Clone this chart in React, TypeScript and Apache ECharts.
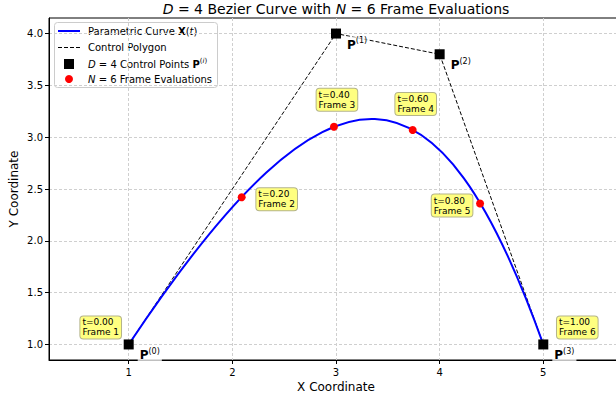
import React, { useEffect, useRef } from 'react';
import * as echarts from 'echarts';

// Control points of the D = 4 (cubic) Bezier curve
const controlX = [1, 3, 4, 5];
const controlY = [1, 4, 3.8, 1];
const controlSup = ['(0)', '(1)', '(2)', '(3)'];

// N = 6 frame evaluations
const frameT = [0.0, 0.2, 0.4, 0.6, 0.8, 1.0];
const frameX = [1.0, 2.09, 2.98, 3.74, 4.39, 5.0];
const frameY = [1.0, 2.42, 3.1, 3.07, 2.36, 1.0];

// Tick labels
const xTicks = [1, 2, 3, 4, 5];
const yTicks = [1.0, 1.5, 2.0, 2.5, 3.0, 3.5, 4.0];

// Layout of the annotation boxes (pixel offsets from each frame point)
const frameLabelOffsets = [
  [-27, -16],
  [36, 3],
  [4, -26],
  [4, -25],
  [-27, 3],
  [35, -16],
];

const FONT = 'DejaVu Sans';

export default function App() {
  const ref = useRef<HTMLDivElement>(null);

  useEffect(() => {
    if (!ref.current) return;
    const chart = echarts.init(ref.current, null, { renderer: 'svg' });

    const gridLeft = 49;
    const gridTop = 18;
    const gridW = 574;
    const gridH = 342;

    const option: any = {
      animation: false,
      backgroundColor: '#ffffff',
      textStyle: { fontFamily: FONT },
      grid: {
        left: gridLeft,
        top: gridTop,
        width: gridW,
        height: gridH,
        outerBoundsMode: 'none',
        containLabel: false,
        show: true,
        borderColor: '#000',
        borderWidth: 1,
        backgroundColor: 'transparent',
      },
      xAxis: {
        type: 'value',
        min: 0.231,
        max: 5.769,
        name: 'X Coordinate',
        nameLocation: 'middle',
        nameGap: 21,
        nameMoveOverlap: false,
        nameTextStyle: { fontFamily: FONT, fontSize: 12, color: '#000' },
        axisLine: { show: true, onZero: false, lineStyle: { color: '#000', width: 1 } },
        axisTick: { show: true, customValues: xTicks, length: 4, lineStyle: { color: '#000' } },
        axisLabel: {
          customValues: xTicks,
          fontFamily: FONT,
          fontSize: 10,
          color: '#000',
          margin: 7,
          formatter: (v: number) => String(v),
        },
        splitLine: { show: true, lineStyle: { color: '#cfcfcf', type: [3, 2], width: 1 } },
      },
      yAxis: {
        type: 'value',
        min: 0.85,
        max: 4.15,
        name: 'Y Coordinate',
        nameLocation: 'middle',
        nameRotate: 90,
        nameGap: 29,
        nameMoveOverlap: false,
        nameTextStyle: { fontFamily: FONT, fontSize: 12, color: '#000' },
        axisLine: { show: true, onZero: false, lineStyle: { color: '#000', width: 1 } },
        axisTick: { show: true, customValues: yTicks, length: 4, lineStyle: { color: '#000' } },
        axisLabel: {
          customValues: yTicks,
          fontFamily: FONT,
          fontSize: 10,
          color: '#000',
          margin: 6,
          formatter: (v: number) => v.toFixed(1),
        },
        splitLine: { show: true, lineStyle: { color: '#cfcfcf', type: [3, 2], width: 1 } },
      },
      series: [
        {
          name: 'Control Polygon',
          type: 'line',
          data: controlX.map((x, i) => [x, controlY[i]]),
          showSymbol: false,
          symbol: 'none',
          lineStyle: { color: '#000', width: 1, type: [4, 2] },
          z: 2,
        },
        {
          name: 'Parametric Curve',
          type: 'custom',
          data: [[controlX[0], controlY[0]]],
          renderItem: (_params: any, api: any) => {
            const p = controlX.map((x, i) => api.coord([x, controlY[i]]));
            return {
              type: 'bezierCurve',
              shape: {
                x1: p[0][0],
                y1: p[0][1],
                cpx1: p[1][0],
                cpy1: p[1][1],
                cpx2: p[2][0],
                cpy2: p[2][1],
                x2: p[3][0],
                y2: p[3][1],
              },
              style: { stroke: '#0000ff', lineWidth: 2, fill: 'none' },
            };
          },
          z: 3,
        },
        {
          name: 'Frame Evaluations',
          type: 'scatter',
          symbol: 'circle',
          symbolSize: 8,
          itemStyle: { color: '#ff0000', opacity: 1 },
          data: frameX.map((x, i) => [x, frameY[i], frameT[i]]),
          label: {
            show: true,
            position: 'inside',
            formatter: (p: any) => `t=${p.value[2].toFixed(2)}\nFrame ${p.dataIndex + 1}`,
            fontFamily: FONT,
            fontSize: 9,
            lineHeight: 10,
            align: 'left',
            color: '#000',
            backgroundColor: '#ffff80',
            borderColor: '#b4b48a',
            borderWidth: 1,
            borderRadius: 3,
            padding: [1, 2, 1, 2],
          },
          labelLayout: (params: any) => {
            const o = frameLabelOffsets[params.dataIndex];
            const r = params.labelRect;
            return {
              x: params.rect.x + params.rect.width / 2 + o[0] - r.width / 2,
              y: params.rect.y + params.rect.height / 2 + o[1] - r.height / 2,
              hideOverlap: false,
            };
          },
          z: 4,
        },
        {
          name: 'Control Points',
          type: 'scatter',
          symbol: 'rect',
          symbolSize: 10,
          itemStyle: { color: '#000', opacity: 1 },
          data: controlX.map((x, i) => [x, controlY[i], controlSup[i]]),
          label: {
            show: true,
            position: 'inside',
            align: 'left',
            verticalAlign: 'middle',
            offset: [9, 11],
            padding: [0, 2, 0, 2],
            backgroundColor: 'rgba(255,255,255,0.75)',
            formatter: (p: any) => `{b|P}{s|${p.data[2]}}`,
            rich: {
              b: { fontFamily: FONT, fontWeight: 'bold', fontSize: 12, color: '#000', lineHeight: 16 },
              s: { fontFamily: FONT, fontSize: 8, color: '#000', lineHeight: 10, verticalAlign: 'top' },
            },
          },
          z: 6,
        },
      ],
      graphic: [
        {
          type: 'text',
          x: 336,
          y: 9,
          style: {
            text: '{i|D} = 4 Bezier Curve with {i|N} = 6 Frame Evaluations',
            align: 'center',
            verticalAlign: 'middle',
            fontFamily: FONT,
            fontSize: 14,
            fill: '#000',
            rich: {
              i: { fontFamily: FONT, fontStyle: 'italic', fontSize: 14, fill: '#000' },
            },
          },
        },
        {
          type: 'group',
          z: 100,
          children: [
            {
              type: 'rect',
              shape: { x: 54.5, y: 22.5, width: 163, height: 65, r: 3 },
              style: { fill: 'rgba(255,255,255,0.85)', stroke: '#cccccc', lineWidth: 1 },
            },
            {
              type: 'line',
              shape: { x1: 58, y1: 31, x2: 80, y2: 31 },
              style: { stroke: '#0000ff', lineWidth: 2 },
            },
            {
              type: 'line',
              shape: { x1: 58, y1: 47.5, x2: 80, y2: 47.5 },
              style: { stroke: '#000', lineWidth: 1, lineDash: [4, 2] },
            },
            {
              type: 'rect',
              shape: { x: 64, y: 59, width: 10, height: 10 },
              style: { fill: '#000' },
            },
            {
              type: 'circle',
              shape: { cx: 69, cy: 79, r: 4 },
              style: { fill: '#ff0000' },
            },
            {
              type: 'text',
              x: 88,
              y: 31,
              style: {
                text: 'Parametric Curve {b|X}({i|t})',
                verticalAlign: 'middle',
                fontFamily: FONT,
                fontSize: 10,
                fill: '#000',
                rich: {
                  b: { fontFamily: FONT, fontWeight: 'bold', fontSize: 10 },
                  i: { fontFamily: FONT, fontStyle: 'italic', fontSize: 10 },
                },
              },
            },
            {
              type: 'text',
              x: 88,
              y: 47,
              style: {
                text: 'Control Polygon',
                verticalAlign: 'middle',
                fontFamily: FONT,
                fontSize: 10,
                fill: '#000',
              },
            },
            {
              type: 'text',
              x: 88,
              y: 64,
              style: {
                text: '{i|D} = 4 Control Points {b|P}{s|(}{si|i}{s|)}',
                verticalAlign: 'middle',
                fontFamily: FONT,
                fontSize: 10,
                fill: '#000',
                rich: {
                  b: { fontFamily: FONT, fontWeight: 'bold', fontSize: 10, lineHeight: 14 },
                  i: { fontFamily: FONT, fontStyle: 'italic', fontSize: 10, lineHeight: 14 },
                  s: { fontFamily: FONT, fontSize: 7, lineHeight: 8, verticalAlign: 'top' },
                  si: { fontFamily: FONT, fontStyle: 'italic', fontSize: 7, lineHeight: 8, verticalAlign: 'top' },
                },
              },
            },
            {
              type: 'text',
              x: 88,
              y: 79,
              style: {
                text: '{i|N} = 6 Frame Evaluations',
                verticalAlign: 'middle',
                fontFamily: FONT,
                fontSize: 10,
                fill: '#000',
                rich: {
                  i: { fontFamily: FONT, fontStyle: 'italic', fontSize: 10 },
                },
              },
            },
          ],
        },
      ],
    };

    chart.setOption(option);
    return () => {
      chart.dispose();
    };
  }, []);

  return (
    <div
      ref={ref}
      style={{ position: 'absolute', left: 0, top: 0, width: 616, height: 397 }}
    />
  );
}
